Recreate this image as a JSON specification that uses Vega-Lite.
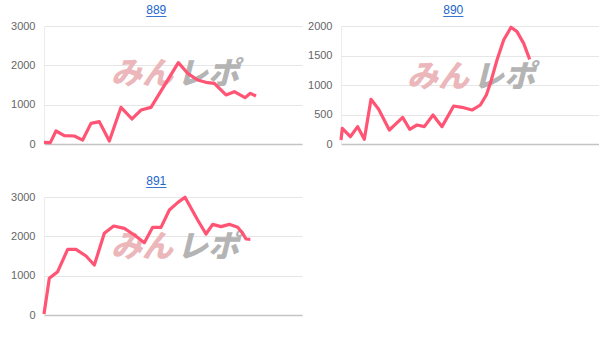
{
  "$schema": "https://vega.github.io/schema/vega-lite/v6.json",
  "padding": {"top": 4, "left": 10, "right": 0, "bottom": 0},
  "background": "#ffffff",
  "columns": 2,
  "spacing": {"row": 26, "column": 5},
  "datasets": {
    "s889": [
      {"g": 0, "v": 40}, {"g": 190, "v": 35}, {"g": 360, "v": 330}, {"g": 610, "v": 212},
      {"g": 910, "v": 203}, {"g": 1160, "v": 100}, {"g": 1410, "v": 525}, {"g": 1660, "v": 568},
      {"g": 1960, "v": 76}, {"g": 2310, "v": 932}, {"g": 2640, "v": 636}, {"g": 2910, "v": 864},
      {"g": 3210, "v": 932}, {"g": 4030, "v": 2068}, {"g": 4310, "v": 1797}, {"g": 4610, "v": 1627},
      {"g": 4910, "v": 1559}, {"g": 5110, "v": 1542}, {"g": 5460, "v": 1246}, {"g": 5710, "v": 1331},
      {"g": 6030, "v": 1178}, {"g": 6190, "v": 1288}, {"g": 6360, "v": 1220}
    ],
    "s890": [
      {"g": 0, "v": 68}, {"g": 40, "v": 266}, {"g": 280, "v": 124}, {"g": 500, "v": 294},
      {"g": 700, "v": 79}, {"g": 900, "v": 757}, {"g": 1130, "v": 588}, {"g": 1450, "v": 237},
      {"g": 1630, "v": 333}, {"g": 1850, "v": 452}, {"g": 2060, "v": 249}, {"g": 2280, "v": 322},
      {"g": 2500, "v": 294}, {"g": 2760, "v": 492}, {"g": 3030, "v": 294}, {"g": 3380, "v": 644},
      {"g": 3630, "v": 622}, {"g": 3930, "v": 576}, {"g": 4180, "v": 661}, {"g": 4360, "v": 831},
      {"g": 4480, "v": 1028}, {"g": 4680, "v": 1424}, {"g": 4880, "v": 1763}, {"g": 5100, "v": 1978},
      {"g": 5280, "v": 1904}, {"g": 5480, "v": 1706}, {"g": 5660, "v": 1435}
    ],
    "s891": [
      {"g": 0, "v": 25}, {"g": 160, "v": 932}, {"g": 410, "v": 1102}, {"g": 710, "v": 1670},
      {"g": 960, "v": 1670}, {"g": 1260, "v": 1500}, {"g": 1510, "v": 1271}, {"g": 1810, "v": 2076},
      {"g": 2090, "v": 2263}, {"g": 2410, "v": 2203}, {"g": 2710, "v": 2034}, {"g": 3010, "v": 1839},
      {"g": 3260, "v": 2229}, {"g": 3510, "v": 2229}, {"g": 3760, "v": 2670}, {"g": 4010, "v": 2856},
      {"g": 4230, "v": 2992}, {"g": 4610, "v": 2415}, {"g": 4860, "v": 2059}, {"g": 5060, "v": 2305},
      {"g": 5310, "v": 2246}, {"g": 5560, "v": 2305}, {"g": 5810, "v": 2229}, {"g": 5960, "v": 2076},
      {"g": 6060, "v": 1932}, {"g": 6190, "v": 1924}
    ]
  },
  "concat": [
    {
      "width": 258, "height": 118,
      "title": {"text": "889", "subtitle": "___"},
      "layer": [
        {
          "data": {"values": [{}]},
          "mark": {"type": "text", "text": "みん", "align": "right", "baseline": "middle", "dx": -1, "font": "Noto Sans CJK JP", "fontSize": 31, "fontWeight": 900, "fontStyle": "italic", "color": "#ebb7ba"},
          "encoding": {
            "x": {"datum": 3900, "type": "quantitative", "axis": {"title": null}},
            "y": {"datum": 1754, "type": "quantitative", "axis": {"title": null, "grid": true, "values": [0, 1000, 2000, 3000], "format": "d"}}
          }
        },
        {
          "data": {"values": [{}]},
          "mark": {"type": "text", "text": "レポ", "align": "left", "baseline": "middle", "dx": 3, "font": "Noto Sans CJK JP", "fontSize": 31, "fontWeight": 900, "fontStyle": "italic", "color": "#b4b4b4"},
          "encoding": {
            "x": {"datum": 3900, "type": "quantitative", "axis": {"title": null}},
            "y": {"datum": 1754, "type": "quantitative", "axis": {"title": null, "grid": true, "values": [0, 1000, 2000, 3000], "format": "d"}}
          }
        },
        {
          "data": {"name": "s889"},
          "mark": {"type": "line", "color": "#ff5473", "strokeWidth": 3.2, "strokeJoin": "round"},
          "encoding": {
            "x": {"field": "g", "type": "quantitative", "scale": {"domain": [0, 7740], "nice": false}, "axis": {"title": null}},
            "y": {"field": "v", "type": "quantitative", "scale": {"domain": [0, 3000], "nice": false}, "axis": {"title": null, "grid": true, "values": [0, 1000, 2000, 3000], "format": "d"}}
          }
        }
      ]
    },
    {
      "width": 258, "height": 118,
      "title": {"text": "890", "subtitle": "___"},
      "layer": [
        {
          "data": {"values": [{}]},
          "mark": {"type": "text", "text": "みん", "align": "right", "baseline": "middle", "dx": -1, "font": "Noto Sans CJK JP", "fontSize": 31, "fontWeight": 900, "fontStyle": "italic", "color": "#ebb7ba"},
          "encoding": {
            "x": {"datum": 3870, "type": "quantitative", "axis": {"title": null}},
            "y": {"datum": 1119, "type": "quantitative", "axis": {"title": null, "grid": true, "values": [0, 500, 1000, 1500, 2000], "format": "d"}}
          }
        },
        {
          "data": {"values": [{}]},
          "mark": {"type": "text", "text": "レポ", "align": "left", "baseline": "middle", "dx": 3, "font": "Noto Sans CJK JP", "fontSize": 31, "fontWeight": 900, "fontStyle": "italic", "color": "#b4b4b4"},
          "encoding": {
            "x": {"datum": 3870, "type": "quantitative", "axis": {"title": null}},
            "y": {"datum": 1119, "type": "quantitative", "axis": {"title": null, "grid": true, "values": [0, 500, 1000, 1500, 2000], "format": "d"}}
          }
        },
        {
          "data": {"name": "s890"},
          "mark": {"type": "line", "color": "#ff5473", "strokeWidth": 3.2, "strokeJoin": "round"},
          "encoding": {
            "x": {"field": "g", "type": "quantitative", "scale": {"domain": [0, 7740], "nice": false}, "axis": {"title": null}},
            "y": {"field": "v", "type": "quantitative", "scale": {"domain": [0, 2000], "nice": false}, "axis": {"title": null, "grid": true, "values": [0, 500, 1000, 1500, 2000], "format": "d"}}
          }
        }
      ]
    },
    {
      "width": 258, "height": 118,
      "title": {"text": "891", "subtitle": "___"},
      "layer": [
        {
          "data": {"values": [{}]},
          "mark": {"type": "text", "text": "みん", "align": "right", "baseline": "middle", "dx": -1, "font": "Noto Sans CJK JP", "fontSize": 31, "fontWeight": 900, "fontStyle": "italic", "color": "#ebb7ba"},
          "encoding": {
            "x": {"datum": 3900, "type": "quantitative", "axis": {"title": null}},
            "y": {"datum": 1703, "type": "quantitative", "axis": {"title": null, "grid": true, "values": [0, 1000, 2000, 3000], "format": "d"}}
          }
        },
        {
          "data": {"values": [{}]},
          "mark": {"type": "text", "text": "レポ", "align": "left", "baseline": "middle", "dx": 3, "font": "Noto Sans CJK JP", "fontSize": 31, "fontWeight": 900, "fontStyle": "italic", "color": "#b4b4b4"},
          "encoding": {
            "x": {"datum": 3900, "type": "quantitative", "axis": {"title": null}},
            "y": {"datum": 1703, "type": "quantitative", "axis": {"title": null, "grid": true, "values": [0, 1000, 2000, 3000], "format": "d"}}
          }
        },
        {
          "data": {"name": "s891"},
          "mark": {"type": "line", "color": "#ff5473", "strokeWidth": 3.2, "strokeJoin": "round"},
          "encoding": {
            "x": {"field": "g", "type": "quantitative", "scale": {"domain": [0, 7740], "nice": false}, "axis": {"title": null}},
            "y": {"field": "v", "type": "quantitative", "scale": {"domain": [0, 3000], "nice": false}, "axis": {"title": null, "grid": true, "values": [0, 1000, 2000, 3000], "format": "d"}}
          }
        }
      ]
    }
  ],
  "config": {
    "view": {"stroke": null},
    "title": {"color": "#1a66cc", "fontSize": 12, "fontWeight": "normal", "font": "Liberation Sans", "anchor": "middle", "frame": "bounds", "offset": 3,
      "subtitleColor": "#1a66cc", "subtitleFontSize": 12, "subtitleFont": "Liberation Sans", "subtitlePadding": -12},
    "axisX": {"labels": false, "ticks": false, "grid": false, "domainColor": "#c4c4c4", "domainWidth": 1.5},
    "axisY": {"domainColor": "#ececec", "ticks": false, "grid": true, "labelPadding": 9, "labelColor": "#666666", "labelFontSize": 11, "labelFont": "Liberation Sans", "gridColor": "#e6e6e6"}
  }
}
